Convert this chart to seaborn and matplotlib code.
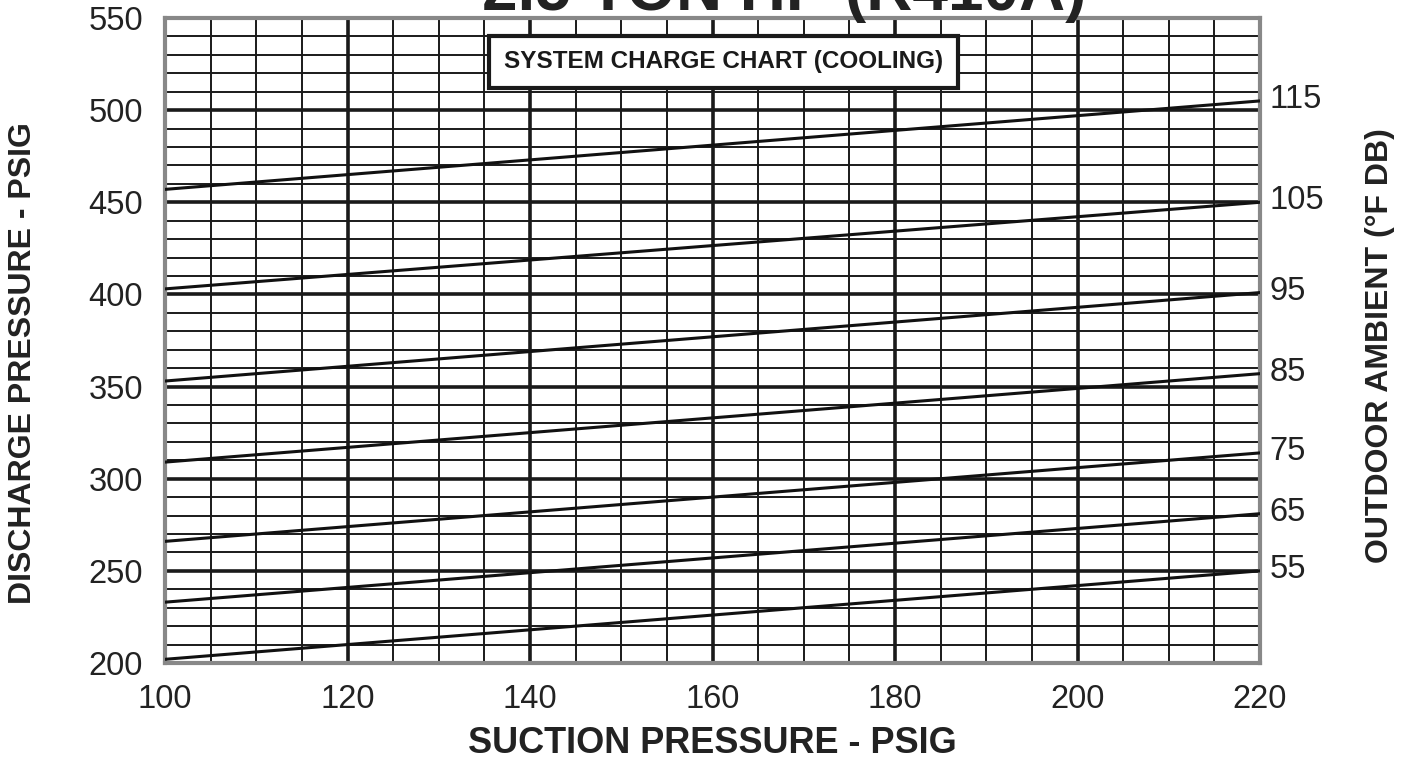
import numpy as np
import pandas as pd
import matplotlib
matplotlib.use("Agg")
import matplotlib.pyplot as plt
import seaborn as sns

# lecturas del grafico de carga (extremos de cada linea de ambiente)
suction = [100, 220]
ambient = [55, 65, 75, 85, 95, 105, 115]
discharge_at_100 = [202, 233, 266, 309, 353, 403, 457]
discharge_at_220 = [250, 281, 314, 357, 401, 450, 505]

rows = []
for t, d0, d1 in zip(ambient, discharge_at_100, discharge_at_220):
    rows.append({"ambient": t, "suction": suction[0], "discharge": d0})
    rows.append({"ambient": t, "suction": suction[1], "discharge": d1})
df = pd.DataFrame(rows)

sns.set_style("white")
plt.rcParams["font.family"] = ["Liberation Sans", "DejaVu Sans"]

fig = plt.figure(figsize=(14.08, 7.59), dpi=100)
ax = fig.add_axes([0.1172, 0.1265, 0.7777, 0.8498])

sns.lineplot(data=df, x="suction", y="discharge", hue="ambient",
             palette=["#111111"] * len(ambient), legend=False,
             linewidth=2.2, ax=ax, zorder=3)

ax.set_xlim(100, 220)
ax.set_ylim(200, 550)
ax.set_xticks(np.arange(100, 221, 20))
ax.set_xticks(np.arange(100, 221, 5), minor=True)
ax.set_yticks(np.arange(200, 551, 50))
ax.set_yticks(np.arange(200, 551, 10), minor=True)

ax.grid(which="major", color="#1a1a1a", linewidth=2.6, zorder=1)
ax.grid(which="minor", color="#1a1a1a", linewidth=1.4, zorder=1)
ax.set_axisbelow(True)

ax.tick_params(which="major", direction="out", length=10, width=1.5,
               color="#222222", labelsize=23.5, labelcolor="#222222")
ax.tick_params(which="minor", length=0)
ax.tick_params(axis="y", pad=6)
ax.tick_params(axis="x", pad=5)

for side in ["left", "top", "right", "bottom"]:
    ax.spines[side].set_color("#888888")
    ax.spines[side].set_linewidth(3)

ax.set_xlabel("")
ax.set_ylabel("")
fig.text(0.506, 0.021, "SUCTION PRESSURE - PSIG", fontsize=26,
         fontweight="bold", color="#222222", ha="center", va="center")
fig.text(0.0165, 0.522, "DISCHARGE PRESSURE - PSIG", rotation=90,
         fontsize=23, fontweight="bold", color="#222222",
         ha="center", va="center")

# etiquetas de temperatura a la derecha
for t, d1 in zip(ambient, discharge_at_220):
    ax.annotate(str(t), xy=(220, d1), xytext=(7, 1), textcoords="offset points",
                ha="left", va="center", fontsize=23.5, color="#222222",
                annotation_clip=False)

fig.text(0.980, 0.545, "OUTDOOR AMBIENT (°F DB)", rotation=90, fontsize=23,
         fontweight="bold", color="#222222", ha="center", va="center")

ax.text(0.51, 0.932, "SYSTEM CHARGE CHART (COOLING)", transform=ax.transAxes,
        ha="center", va="center", fontsize=17.5, fontweight="bold",
        color="#1a1a1a", zorder=5,
        bbox=dict(boxstyle="square,pad=0.6", fc="white", ec="#1a1a1a", lw=3))

# titulo cortado por el borde superior, como en el original
fig.text(0.557, 0.987, "2.5 TON HP (R410A)", ha="center", va="baseline",
         fontsize=46, fontweight="bold", color="#222222")

fig.savefig("out.png", dpi=100, facecolor="white")
